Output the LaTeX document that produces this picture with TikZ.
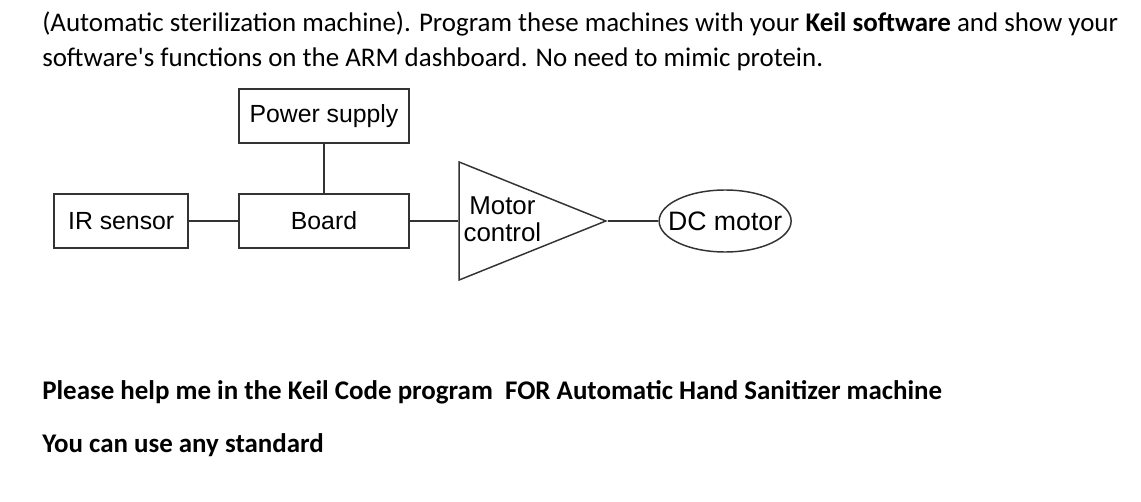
\documentclass[tikz,border=0pt]{standalone}
\usepackage{fontspec}
\setmainfont{Carlito}
\newfontfamily\diagfont{Liberation Sans}
\usetikzlibrary{shapes.geometric, positioning}

\begin{document}
\begin{tikzpicture}[
  x=0.75pt, y=-0.75pt,
  node distance=37pt,
  block/.style={draw=black!80, line width=1.1pt, minimum height=40.5pt, inner sep=0pt, font=\diagfont\fontsize{18.6}{19}\selectfont},
  wire/.style={draw=black!80, line width=1.1pt},
  prose/.style={anchor=base west, inner sep=0pt, font=\fontsize{20.2}{24}\selectfont},
]
\useasboundingbox (0,0) rectangle (1141,502);

% Heading text
\node[prose] (line1) at (42,31.5) {(Automatic sterilization machine). Program these machines with your \textbf{Keil software} and show your};
\node[prose] (line2) at (42,67) {software\textquotesingle s functions on the ARM dashboard. No need to mimic protein.};

% Block diagram
\node[block, minimum width=127.5pt] (board) at (324,221) {Board};
\node[block, minimum width=100.5pt, left=of board] (ir) {IR sensor};
\node[block, minimum width=127.5pt, above=of board] (power) {Power supply};
\node[wire, isosceles triangle, isosceles triangle stretches, minimum width=88.5pt, minimum height=110pt, inner sep=0pt, right=36.5pt of board] (ctrl) {};
\node[font=\diagfont\fontsize{19.4}{20.25}\selectfont, align=center, inner sep=0pt] (ctrltext) at ([xshift=33pt, yshift=1.5pt]ctrl.west) {Motor\\control};
\node[wire, ellipse, minimum width=99pt, minimum height=46.5pt, inner sep=0pt, right=38pt of ctrl.east, anchor=west,
  label={[font=\diagfont\fontsize{20}{20}\selectfont]center:DC motor}] (motor) {};

% Connections
\draw[wire] (ir) -- (board);
\draw[wire] (power) -- (board);
\draw[wire] (board) -- (ctrl.west);
\draw[wire] (ctrl.east) -- (motor);

% Request text
\node[prose, font=\bfseries\fontsize{20.2}{24}\selectfont] (ask) at (42,399.5) {Please help me in the Keil Code program\ \ FOR Automatic Hand Sanitizer machine};
\node[prose, font=\bfseries\fontsize{20.2}{24}\selectfont] (std) at (42,452) {You can use any standard};
\end{tikzpicture}
\end{document}
